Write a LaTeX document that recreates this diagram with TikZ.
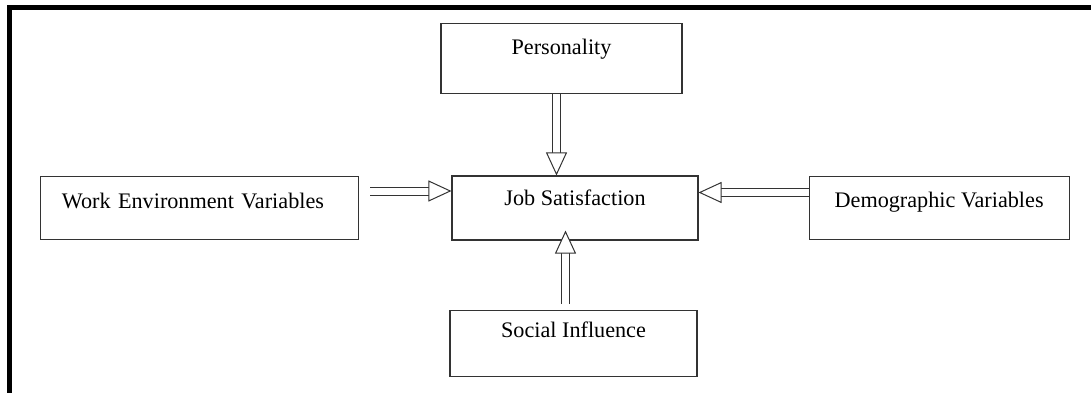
\documentclass[tikz,border=0pt]{standalone}
\usepackage{fontspec}
\setmainfont{Liberation Serif}
\usepackage{tikz}
\usetikzlibrary{arrows.meta, positioning, calc}
\tikzstyle{box} = [rectangle, draw=black!80, line width=1.1pt, text centered, minimum height=63pt, text height=16pt, text depth=20pt, font=\fontsize{22.2}{26}\selectfont]
\tikzstyle{hollow} = [draw=white, line width=1pt, -{Triangle[open, length=23pt, width=21pt, color=black!80, fill=white]}, preaction={draw=black!80, double=white, double distance=7pt, shorten >=15pt, -}]

\begin{document}
\begin{tikzpicture}[x=1pt, y=-1pt, node distance=80pt]
        \useasboundingbox (0,0) rectangle (1091,393);
        % outer frame
        \draw[line width=5pt, line join=miter] (9.5,393) -- (9.5,7.5) -- (1091,7.5);

        \node (job) [box, minimum width=246pt, minimum height=64pt, text depth=21pt] at (575,208) {Job Satisfaction};
        \node (pers) [box, above=81pt of job, xshift=-13.5pt, minimum width=241pt, minimum height=70pt, text depth=25pt] {Personality};
        \node (work) [box, left=92pt of job, minimum width=318pt, text width=276pt, align=left, text depth=16pt] {Work Environment Variables};
        \node (demo) [box, right=110pt of job, minimum width=260pt, text depth=18pt] {Demographic Variables};
        \node (social) [box, below=69pt of job, xshift=-1.5pt, minimum width=247pt, minimum height=66pt, text depth=28pt] {Social Influence};

        \draw[hollow] ([xshift=-5pt]pers.south) -- ([xshift=-5pt]pers.south |- job.north);
        \draw[hollow] ([xshift=11pt, yshift=17pt]work.east) -- ([yshift=17pt]work.east -| job.west);
        \draw[hollow] ([yshift=15.5pt]demo.west) -- ([yshift=15.5pt]demo.west -| job.east);
        \draw[hollow] ([xshift=-8pt, yshift=6pt]social.north) -- ([xshift=-8pt, yshift=10pt]social.north |- job.south);
    \end{tikzpicture}
\end{document}
